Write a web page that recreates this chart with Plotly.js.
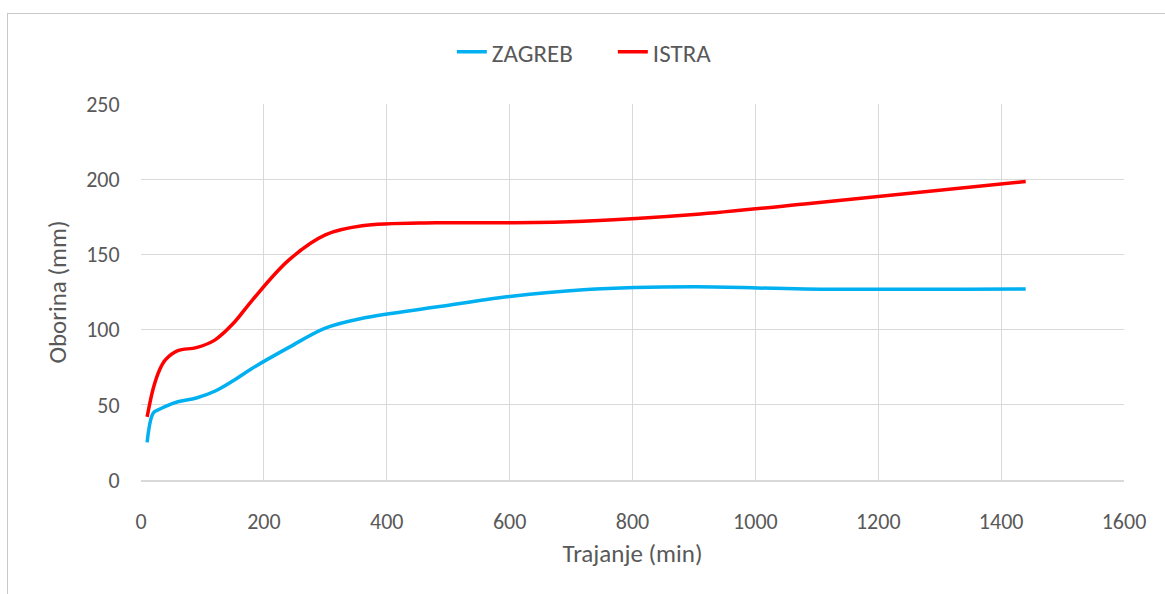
<!DOCTYPE html>
<html>
<head>
<meta charset="utf-8">
<script src="https://cdn.plot.ly/plotly-3.0.1.min.js"></script>
<style>
  html, body { margin: 0; padding: 0; background: #fff; overflow: hidden; }
  #frame { position: absolute; left: 7px; top: 13px; width: 1200px; height: 640px; border: 1px solid #c8c8c8; box-sizing: border-box; }
  #chart { position: absolute; left: 0; top: 0; width: 1165px; height: 594px; }
</style>
</head>
<body>
<div id="frame"></div>
<div id="chart"></div>
<script>
const durations = [10, 20, 30, 40, 60, 90, 120, 150, 180, 240, 300, 360, 480, 600, 720, 900, 1080, 1440];
const zagreb    = [25, 44.5, 47, 49, 52, 54.5, 59, 66, 74, 88, 101, 107.5, 115, 122, 126.5, 128.5, 127, 127];
const istra     = [42, 61, 73, 80, 86, 88, 93, 104, 119, 146, 163, 169, 171, 171, 172, 176.5, 183.5, 198.5];
const seriesNames = ['ZAGREB', 'ISTRA'];
const xTicks = [0, 200, 400, 600, 800, 1000, 1200, 1400, 1600];
const yTicks = [0, 50, 100, 150, 200, 250];

const font = "Carlito, Calibri, Lato, 'Open Sans', sans-serif";

const traces = [
  { x: durations, y: zagreb, name: seriesNames[0], type: 'scatter', mode: 'lines',
    line: { color: '#00b0f0', width: 3.5, shape: 'spline', smoothing: 1 } },
  { x: durations, y: istra, name: seriesNames[1], type: 'scatter', mode: 'lines',
    line: { color: '#ff0000', width: 3.5, shape: 'spline', smoothing: 1 } }
];

const layout = {
  width: 1165, height: 594,
  margin: { l: 141, r: 41, t: 104, b: 114 },
  paper_bgcolor: 'rgba(0,0,0,0)',
  plot_bgcolor: 'rgba(0,0,0,0)',
  font: { family: font, color: '#595959', size: 22 },
  showlegend: true,
  legend: {
    orientation: 'h', x: 0.480, xanchor: 'center', y: 1.138, yanchor: 'middle',
    font: { family: font, size: 25, color: '#595959' },
    tracegroupgap: 0, entrywidth: 116, entrywidthmode: 'pixels'
  },
  xaxis: {
    range: [0, 1600], tickvals: xTicks, ticktext: xTicks.map(String),
    showgrid: true, gridcolor: '#d9d9d9', gridwidth: 1,
    showline: true, linecolor: '#d9d9d9', linewidth: 1.5,
    zeroline: false, ticks: 'outside', ticklen: 21, tickcolor: 'rgba(0,0,0,0)',
    tickfont: { family: font, size: 22, color: '#595959' },
    title: { text: 'Trajanje (min)', font: { family: font, size: 25, color: '#595959' }, standoff: 10 },
    fixedrange: true
  },
  yaxis: {
    range: [0, 250], tickvals: yTicks, ticktext: yTicks.map(String),
    showgrid: true, gridcolor: '#d9d9d9', gridwidth: 1,
    showline: false, zeroline: false,
    ticks: 'outside', ticklen: 16, tickcolor: 'rgba(0,0,0,0)',
    tickfont: { family: font, size: 22, color: '#595959' },
    title: { text: 'Oborina (mm)', font: { family: font, size: 25, color: '#595959' }, standoff: 12 },
    fixedrange: true
  }
};

Plotly.newPlot('chart', traces, layout, { displayModeBar: false, staticPlot: true });
</script>
</body>
</html>
